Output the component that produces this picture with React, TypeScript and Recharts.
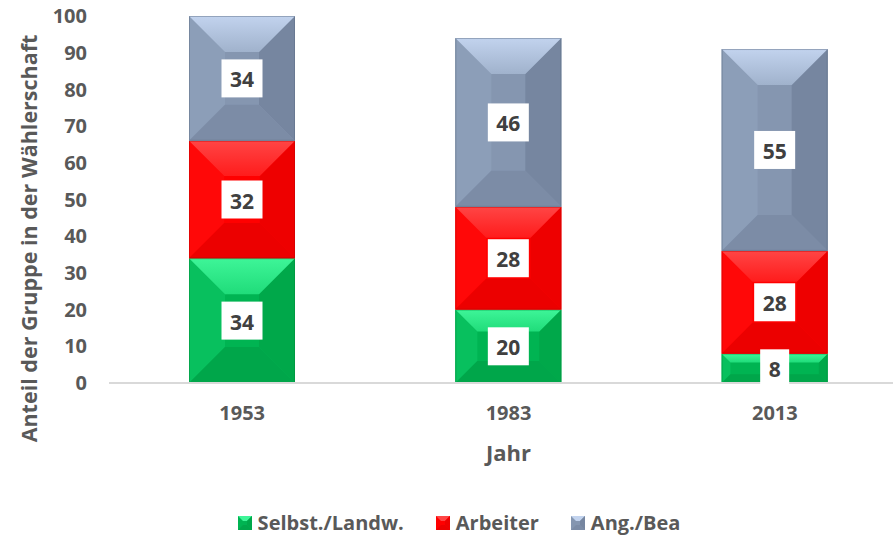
import React from 'react';
import { BarChart, Bar, XAxis, YAxis, Legend, LabelList } from 'recharts';

const years = ['1953', '1983', '2013'];
const selbst = [34, 20, 8];
const arbeiter = [32, 28, 28];
const angestellte = [34, 46, 55];
const yTicks = [0, 10, 20, 30, 40, 50, 60, 70, 80, 90, 100];

const data = years.map((year, i) => ({
  year,
  selbst: selbst[i],
  arbeiter: arbeiter[i],
  ang: angestellte[i],
}));

const FONT = '"Open Sans", Lato, sans-serif';
const GREY = '#595959';

type Pal = { base: string; top1: string; top2: string; left: string; right: string; bottom: string; edge: string };

const PAL: Record<string, Pal> = {
  selbst: { base: '#00b452', top1: '#3ef598', top2: '#20dc7a', left: '#08c05e', right: '#00a84a', bottom: '#00a64a', edge: '#00893a' },
  arbeiter: { base: '#ff0000', top1: '#ff4545', top2: '#ff1c1c', left: '#ff0808', right: '#ee0000', bottom: '#ec0000', edge: '#c00000' },
  ang: { base: '#8596b0', top1: '#c2d3ee', top2: '#a0b2cc', left: '#8c9eb8', right: '#7686a0', bottom: '#7c8ca6', edge: '#5c6a80' },
};

const BevelRect = (props: any) => {
  const { x, y, width: w, height: h, pal } = props;
  if (!h || h <= 0) return null;
  const d = Math.min(36, h * 0.3, w * 0.35);
  const id = `g-${pal.base.slice(1)}`;
  return (
    <g>
      <defs>
        <linearGradient id={id} x1="0" y1="0" x2="0" y2="1">
          <stop offset="0%" stopColor={pal.top1} />
          <stop offset="100%" stopColor={pal.top2} />
        </linearGradient>
      </defs>
      <rect x={x} y={y} width={w} height={h} fill={pal.base} />
      <polygon points={`${x},${y} ${x + d},${y + d} ${x + d},${y + h - d} ${x},${y + h}`} fill={pal.left} />
      <polygon points={`${x + w},${y} ${x + w - d},${y + d} ${x + w - d},${y + h - d} ${x + w},${y + h}`} fill={pal.right} />
      <polygon points={`${x},${y + h} ${x + w},${y + h} ${x + w - d},${y + h - d} ${x + d},${y + h - d}`} fill={pal.bottom} />
      <polygon points={`${x},${y} ${x + w},${y} ${x + w - d},${y + d} ${x + d},${y + d}`} fill={`url(#${id})`} />
      <rect x={x + 0.5} y={y + 0.5} width={w - 1} height={h - 1} fill="none" stroke={pal.edge} strokeOpacity={0.45} />
    </g>
  );
};

const ValueLabel = (props: any) => {
  const { x, y, width, height, value } = props;
  const cx = x + width / 2;
  const cy = y + height / 2;
  const bw = String(value).length > 1 ? 41 : 29;
  const bh = 38;
  return (
    <g>
      <rect x={cx - bw / 2} y={cy - bh / 2} width={bw} height={bh} fill="#ffffff" />
      <text x={cx} y={cy + 1} textAnchor="middle" dominantBaseline="central" fontFamily={FONT} fontWeight={700} fontSize={21} fill="#404040">
        {value}
      </text>
    </g>
  );
};

const YLabel = (props: any) => {
  const { viewBox } = props;
  const cx = viewBox.x + 28;
  const cy = viewBox.y + viewBox.height / 2 + 39;
  return (
    <text x={cx} y={cy} transform={`rotate(-90 ${cx} ${cy})`} textAnchor="middle" dominantBaseline="central" fontFamily={FONT} fontWeight={700} fontSize={21.5} fill={GREY}>
      Anteil der Gruppe in der Wählerschaft
    </text>
  );
};

const XLabel = (props: any) => {
  const { viewBox } = props;
  const cx = viewBox.x + viewBox.width / 2;
  const cy = viewBox.y + 69;
  return (
    <text x={cx} y={cy} textAnchor="middle" dominantBaseline="central" fontFamily={FONT} fontWeight={700} fontSize={22} fill={GREY}>
      Jahr
    </text>
  );
};

const legendItems = [
  { key: 'selbst', name: 'Selbst./Landw.' },
  { key: 'arbeiter', name: 'Arbeiter' },
  { key: 'ang', name: 'Ang./Bea' },
];

const LegendContent = () => (
  <div style={{ display: 'flex', justifyContent: 'center', gap: 32, fontFamily: FONT, fontWeight: 700, fontSize: 20, lineHeight: '27px', color: GREY, paddingTop: 16, paddingLeft: 10 }}>
    {legendItems.map((it) => {
      const p = PAL[it.key];
      return (
        <div key={it.key} style={{ display: 'flex', alignItems: 'center' }}>
          <svg width={14} height={14} style={{ marginRight: 6 }}>
            <rect x={0} y={0} width={14} height={14} fill={p.base} />
            <polygon points="0,0 14,0 9,5 5,5" fill={p.top1} />
            <polygon points="0,14 14,14 9,9 5,9" fill={p.bottom} />
            <polygon points="14,0 14,14 9,9 9,5" fill={p.right} />
          </svg>
          <span>{it.name}</span>
        </div>
      );
    })}
  </div>
);

export default function App() {
  return (
    <div style={{ position: 'absolute', left: 0, top: 0, width: 893, height: 538, overflow: 'hidden', background: '#fff' }}>
      <BarChart width={920} height={538} data={data} margin={{ top: 16, right: 12, left: 0, bottom: 2 }} barSize={106}>
        <XAxis
          dataKey="year"
          axisLine={{ stroke: '#d9d9d9', strokeWidth: 2 }}
          tickLine={false}
          tickSize={0}
          tickMargin={23}
          height={110}
          tick={{ fontFamily: FONT, fontWeight: 700, fontSize: 20, fill: GREY }}
          label={<XLabel />}
        />
        <YAxis
          domain={[0, 100]}
          ticks={yTicks}
          interval={0}
          axisLine={false}
          tickLine={false}
          tickSize={0}
          tickMargin={22}
          width={109}
          tick={{ fontFamily: FONT, fontWeight: 700, fontSize: 20, fill: GREY }}
          label={<YLabel />}
        />
        <Legend verticalAlign="bottom" content={<LegendContent />} />
        <Bar dataKey="selbst" name="Selbst./Landw." stackId="a" fill={PAL.selbst.base} isAnimationActive={false} shape={(p: any) => <BevelRect {...p} pal={PAL.selbst} />}>
          <LabelList dataKey="selbst" content={<ValueLabel />} />
        </Bar>
        <Bar dataKey="arbeiter" name="Arbeiter" stackId="a" fill={PAL.arbeiter.base} isAnimationActive={false} shape={(p: any) => <BevelRect {...p} pal={PAL.arbeiter} />}>
          <LabelList dataKey="arbeiter" content={<ValueLabel />} />
        </Bar>
        <Bar dataKey="ang" name="Ang./Bea" stackId="a" fill={PAL.ang.base} isAnimationActive={false} shape={(p: any) => <BevelRect {...p} pal={PAL.ang} />}>
          <LabelList dataKey="ang" content={<ValueLabel />} />
        </Bar>
      </BarChart>
    </div>
  );
}
